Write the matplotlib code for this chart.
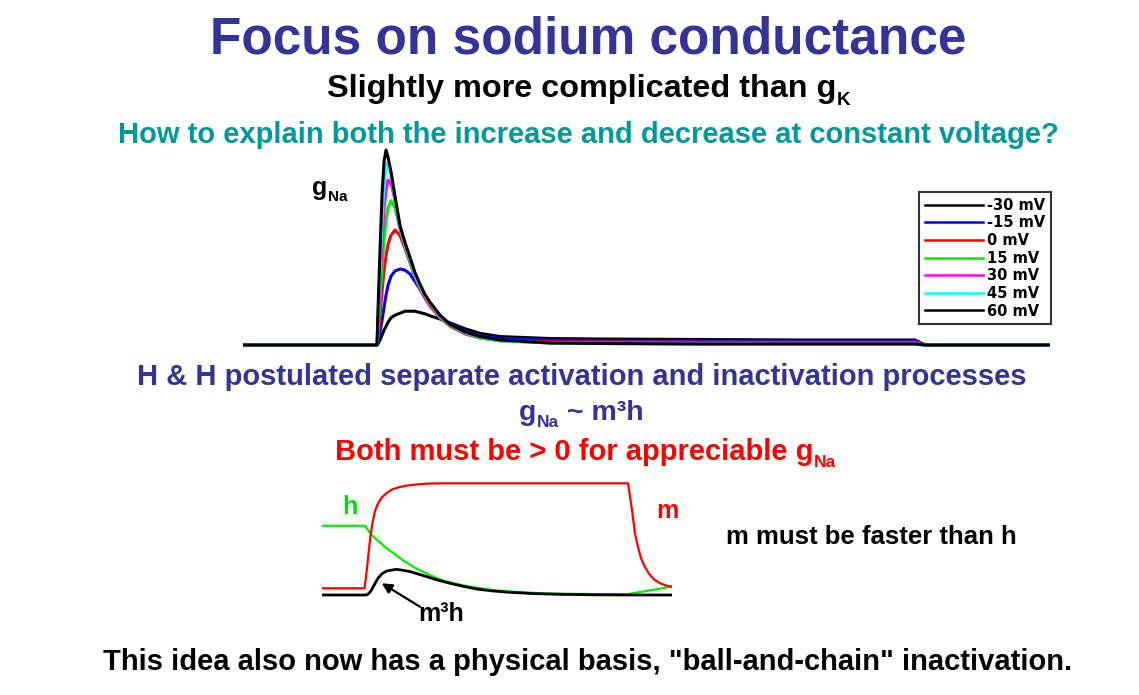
import matplotlib
matplotlib.use("Agg")
import matplotlib.pyplot as plt

plt.rcParams["font.family"] = ["Liberation Sans", "DejaVu Sans"]
plt.rcParams["font.weight"] = "bold"

W, H = 1139, 695

# ---- gNa traces during a voltage step (ms, mS/cm^2) ----
t_step = [0.0, 4.0, 4.03, 4.06, 4.09, 4.15, 4.21, 4.27, 4.33, 4.42, 4.54, 4.69, 4.84,
          4.99, 5.13, 5.28, 5.43, 5.58, 5.88, 6.18, 6.63, 7.07, 7.67, 9.16, 10.66,
          13.64, 16.63, 20.06, 20.36, 24.1]

g_m30 = [0, 0, 0.15, 0.46, 0.77, 1.5, 2.3, 2.9, 3.5, 4.2, 4.6, 4.9, 5.2, 5.2, 5.2, 5.0,
         4.8, 4.5, 4.0, 3.4, 2.5, 1.8, 1.3, 1.0, 0.92, 0.85, 0.77, 0.77, 0, 0]
g_m15 = [0, 0, 0.46, 1.2, 2.0, 3.8, 5.8, 7.7, 9.2, 10.6, 11.4, 11.7, 11.5, 10.9, 9.8,
         8.6, 7.4, 6.3, 4.5, 3.2, 2.1, 1.4, 1.0, 0.77, 0.69, 0.62, 0.62, 0.62, 0, 0]
g_0 = [0, 0, 1.2, 2.8, 4.6, 8.2, 11.4, 13.8, 15.5, 16.9, 17.7, 16.8, 14.8, 12.6, 10.5,
       8.6, 7.2, 6.0, 4.2, 2.9, 1.7, 1.1, 0.69, 0.49, 0.46, 0.43, 0.43, 0.43, 0, 0]
g_15 = [0, 0, 2.0, 4.5, 6.9, 11.8, 16.2, 19.2, 21.1, 22.2, 21.1, 17.7, 15.1, 12.8, 10.6,
        8.8, 7.4, 6.2, 4.2, 3.0, 1.8, 1.1, 0.62, 0.34, 0.31, 0.26, 0.26, 0.26, 0, 0]
g_30 = [0, 0, 3.1, 6.5, 9.7, 15.7, 20.8, 23.8, 25.4, 24.9, 22.2, 17.8, 15.2, 12.9, 10.8,
        8.9, 7.5, 6.3, 4.3, 3.1, 1.8, 1.2, 0.69, 0.31, 0.26, 0.22, 0.22, 0.22, 0, 0]
g_45 = [0, 0, 4.2, 8.2, 11.8, 18.9, 24.6, 27.7, 28.0, 26.3, 22.5, 18.0, 15.4, 13.1, 10.9,
        9.1, 7.7, 6.5, 4.5, 3.2, 1.9, 1.2, 0.69, 0.31, 0.23, 0.15, 0.15, 0.15, 0, 0]
g_60 = [0, 0, 5.4, 10.0, 14.6, 23.1, 28.2, 30.0, 28.9, 26.6, 22.8, 18.3, 15.7, 13.4, 11.2,
        9.4, 7.8, 6.6, 4.6, 3.2, 2.0, 1.3, 0.77, 0.31, 0.23, 0.15, 0.15, 0.15, 0, 0]

step_labels = ["-30 mV", "-15 mV", "0 mV", "15 mV", "30 mV", "45 mV", "60 mV"]
step_colors = ["black", "blue", "red", "#00ee00", "magenta", "cyan", "black"]
step_traces = [g_m30, g_m15, g_0, g_15, g_30, g_45, g_60]

# ---- gating variables m, h and the product m^3 h ----
t_m = [0.0, 4.25, 4.45, 4.65, 4.85, 5.05, 5.3, 5.6, 6.0, 6.5, 7.0, 7.7, 8.5, 9.5, 10.5,
       12.0, 30.6, 30.8, 31.0, 31.3, 31.6, 31.9, 32.3, 32.7, 33.2, 33.8, 34.4, 34.95]
m_val = [0.06, 0.06, 0.2, 0.37, 0.53, 0.65, 0.75, 0.82, 0.875, 0.915, 0.945, 0.965, 0.98,
         0.99, 0.997, 1.0, 1.0, 0.88, 0.76, 0.55, 0.43, 0.33, 0.25, 0.19, 0.14, 0.105,
         0.085, 0.075]
t_h = [0.0, 4.3, 4.7, 5.15, 5.8, 6.45, 7.2, 8.1, 9.0, 9.8, 11.0, 12.1, 13.4, 14.8, 16.2,
       17.5, 19.5, 22.1, 26.0, 30.5, 34.95]
h_val = [0.62, 0.62, 0.57, 0.52, 0.47, 0.42, 0.37, 0.31, 0.26, 0.22, 0.17, 0.13, 0.10,
         0.075, 0.055, 0.04, 0.027, 0.015, 0.009, 0.006, 0.075]
t_mh = [0.0, 4.45, 4.7, 4.95, 5.25, 5.6, 6.0, 6.45, 7.45, 8.8, 10.45, 11.5, 12.8, 14.0,
        15.45, 17.0, 18.8, 21.0, 23.8, 27.0, 30.45, 34.95]
mh_val = [0, 0, 0.015, 0.045, 0.095, 0.15, 0.19, 0.215, 0.23, 0.21, 0.165, 0.135, 0.105,
          0.08, 0.054, 0.037, 0.024, 0.013, 0.006, 0.002, 0, 0]

DARK_BLUE = "#333399"
TEAL = "#009999"


def px(x, y):
    return x / W, 1 - y / H


fig = plt.figure(figsize=(W / 100, H / 100), dpi=100)
renderer = fig.canvas.get_renderer()


def text_sub(xc, base, main, sub, size, sub_size, color, drop):
    # main text followed by a lowered subscript, centred as one block
    t1 = fig.text(0, 0, main, fontsize=size, color=color, fontweight="bold",
                  ha="left", va="baseline")
    t2 = fig.text(0, 0, sub, fontsize=sub_size, color=color, fontweight="bold",
                  ha="left", va="baseline")
    w1 = t1.get_window_extent(renderer).width
    w2 = t2.get_window_extent(renderer).width
    x0 = xc - (w1 + w2) / 2
    t1.set_position(px(x0, base))
    t2.set_position(px(x0 + w1 + 1, base + drop))


# titles
fig.text(*px(588, 54), "Focus on sodium conductance", fontsize=37, color=DARK_BLUE,
         ha="center", va="baseline", fontweight="bold")
text_sub(588, 97, "Slightly more complicated than g", "K", 23.3, 13.5, "black", 8)
fig.text(*px(588, 143), "How to explain both the increase and decrease at constant voltage?",
         fontsize=21, color=TEAL, ha="center", va="baseline", fontweight="bold")

# top plot: gNa traces
ax1 = fig.add_axes([243 / W, 1 - 350 / H, (1050 - 243) / W, 220 / H])
for g, c, lab in zip(step_traces, step_colors, step_labels):
    ax1.plot(t_step, g, color=c, lw=2.2, label=lab, solid_joinstyle="round")
ax1.set_xlim(0, 24.09)
ax1.set_ylim(-5 / 6.5, 215 / 6.5)
ax1.axis("off")
leg = ax1.legend(loc="upper left", bbox_to_anchor=px(919, 192),
                 bbox_transform=fig.transFigure,
                 prop={"family": "DejaVu Sans", "weight": "bold", "size": 10.5},
                 frameon=True, fancybox=False, handlelength=4.0, labelspacing=0.18,
                 borderpad=0.4, handletextpad=0.25, borderaxespad=0)
leg.get_frame().set_edgecolor("black")
leg.get_frame().set_linewidth(1.5)
for ln in leg.get_lines():
    ln.set_linewidth(1.8)

text_sub(329, 195, "g", "Na", 18, 11, "black", 6)

# middle text
fig.text(*px(582, 385), "H & H postulated separate activation and inactivation processes",
         fontsize=21, color=DARK_BLUE, ha="center", va="baseline", fontweight="bold")
t_g = fig.text(0, 0, "g", fontsize=20.5, color=DARK_BLUE, fontweight="bold",
               ha="left", va="baseline")
t_na = fig.text(0, 0, "Na", fontsize=12.5, color=DARK_BLUE, fontweight="bold",
                ha="left", va="baseline")
t_rest = fig.text(0, 0, " ~ m³h", fontsize=20.5, color=DARK_BLUE, fontweight="bold",
                  ha="left", va="baseline")
wg = t_g.get_window_extent(renderer).width
wn = t_na.get_window_extent(renderer).width
wr = t_rest.get_window_extent(renderer).width
x0 = 581 - (wg + wn + wr) / 2
t_g.set_position(px(x0, 420))
t_na.set_position(px(x0 + wg + 1, 427))
t_rest.set_position(px(x0 + wg + wn + 1, 420))

text_sub(585, 460, "Both must be > 0 for appreciable g", "Na", 21, 12.5, "red", 7)

# bottom plot: m, h, m^3h
ax2 = fig.add_axes([322 / W, 1 - 600 / H, 350 / W, 122 / H])
ax2.plot(t_h, h_val, color="#00ee00", lw=1.6)
ax2.plot(t_m, m_val, color="red", lw=1.6)
ax2.plot(t_mh, mh_val, color="black", lw=2.0)
ax2.set_xlim(0, 35)
ax2.set_ylim(-5 / 111.7, 117 / 111.7)
ax2.axis("off")
ax2.annotate("", xy=(5.97, 0.105), xytext=(9.8, -0.105),
             arrowprops=dict(arrowstyle="-|>", color="black", lw=1.6,
                             mutation_scale=15, shrinkA=0, shrinkB=0),
             annotation_clip=False)

fig.text(*px(350, 514), "h", fontsize=18, color="#00dd00", ha="center", va="baseline",
         fontweight="bold")
fig.text(*px(667, 518), "m", fontsize=18, color="red", ha="center", va="baseline",
         fontweight="bold")
fig.text(*px(441, 621), "m³h", fontsize=18, color="black", ha="center", va="baseline",
         fontweight="bold")
fig.text(*px(871, 544), "m must be faster than h", fontsize=18.5, color="black",
         ha="center", va="baseline", fontweight="bold")

fig.text(*px(588, 670), 'This idea also now has a physical basis, "ball-and-chain" inactivation.',
         fontsize=21, color="black", ha="center", va="baseline", fontweight="bold")

fig.savefig("out.png", dpi=100)
